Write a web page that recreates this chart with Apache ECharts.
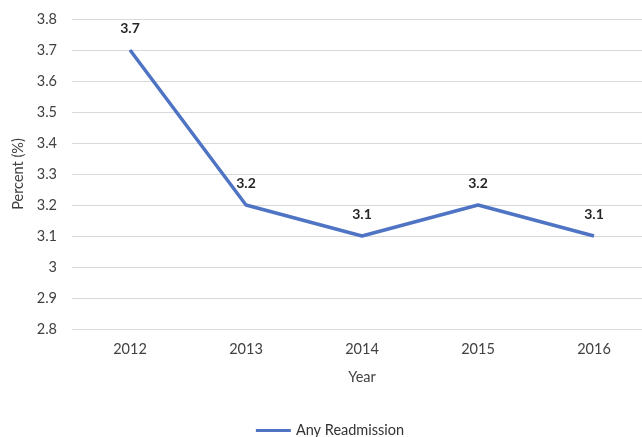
<!DOCTYPE html>
<html><head><meta charset="utf-8">
<script src="https://cdn.jsdelivr.net/npm/echarts@6/dist/echarts.min.js"></script>
<style>html,body{margin:0;padding:0;background:#fff;overflow:hidden;width:642px;height:437px}#c{width:660px;height:437px}</style>
</head><body><div id="c"></div>
<script>
const years = ['2012','2013','2014','2015','2016'];
const anyReadmission = [3.7, 3.2, 3.1, 3.2, 3.1];
const seriesName = 'Any Readmission';
const font = 'Lato';
const blue = '#4f74c4';
const chart = echarts.init(document.getElementById('c'));
chart.setOption({
  animation: false,
  textStyle: {fontFamily: font},
  grid: {left: 72, top: 19, right: 8, bottom: 108, containLabel: false},
  legend: {
    bottom: -6, left: 'center',
    data: [{name: seriesName, itemStyle: {color: blue, opacity: 1}}],
    icon: 'rect', itemWidth: 35, itemHeight: 3, itemGap: 4,
    textStyle: {fontFamily: font, fontSize: 14.5, color: '#333'}
  },
  xAxis: {
    type: 'category', data: years, boundaryGap: true,
    name: 'Year', nameLocation: 'middle', nameGap: 41,
    nameTextStyle: {fontFamily: font, fontSize: 14.5, color: '#404040'},
    axisLine: {show: false}, axisTick: {show: false},
    axisLabel: {fontFamily: font, fontSize: 14.5, color: '#404040', margin: 13}
  },
  yAxis: {
    type: 'value', min: 2.8, max: 3.8, interval: 0.1,
    name: 'Percent (%)', nameLocation: 'middle', nameGap: 45, nameRotate: 90,
    nameTextStyle: {fontFamily: font, fontSize: 14.5, color: '#404040'},
    axisLine: {show: false}, axisTick: {show: false},
    axisLabel: {fontFamily: font, fontSize: 14.5, color: '#404040', margin: 15,
      formatter: v => String(Math.round(v * 10) / 10)},
    splitLine: {lineStyle: {color: '#d9d9d9', width: 1}}
  },
  series: [{
    name: seriesName, type: 'line', data: anyReadmission,
    symbol: 'circle', symbolSize: 0.5, showSymbol: true,
    lineStyle: {color: blue, width: 3.5},
    itemStyle: {color: blue},
    label: {show: true, position: 'top', distance: 14,
      fontFamily: font, fontSize: 14, fontWeight: 'bold', color: '#262626'}
  }]
});
</script></body></html>
